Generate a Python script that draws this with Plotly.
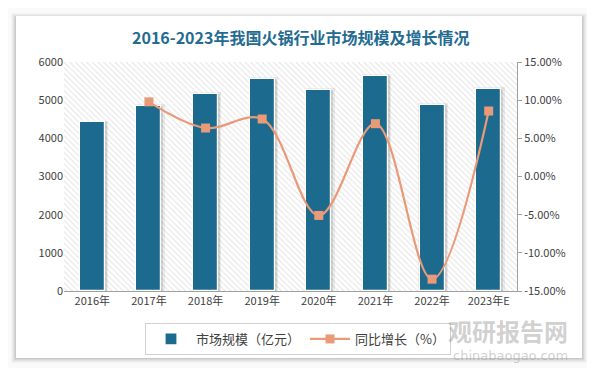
import plotly.graph_objects as go

categories = ["2016年", "2017年", "2018年", "2019年", "2020年", "2021年", "2022年", "2023年E"]
market_size = [4420, 4855, 5170, 5555, 5275, 5640, 4882, 5300]
growth_x = ["2017年", "2018年", "2019年", "2020年", "2021年", "2022年", "2023年E"]
growth_pct = [9.78, 6.35, 7.53, -5.10, 6.92, -13.45, 8.58]
left_ticks = [0, 1000, 2000, 3000, 4000, 5000, 6000]
right_ticks = [-15, -10, -5, 0, 5, 10, 15]
right_tick_text = ["-15.00%", "-10.00%", "-5.00%", "0.00%", "5.00%", "10.00%", "15.00%"]

BAR = "#1d6a8f"
LINE = "#e99a78"
FONT = "Noto Sans CJK SC"

# page body has an 8px margin; work in window pixels and compensate
OFF = 8
L, R, T, B = 64, 517, 62, 291
W, H = 595 - OFF, 368 - OFF
def px(x):
    return (x - L) / (R - L)
def py(y):
    return (B - y) / (B - T)

fig = go.Figure()

# hatched plot background
fig.add_trace(go.Bar(
    x=categories, y=[6000] * len(categories), width=1.0,
    marker=dict(color="white", line=dict(width=0),
                pattern=dict(shape="\\", fgcolor="#c8c8c8", bgcolor="white", size=4, solidity=0.25)),
    hoverinfo="skip", showlegend=False,
))
# soft bar shadows
fig.add_trace(go.Bar(
    x=categories, y=[v + 40 for v in market_size], width=0.52, offset=-0.24,
    marker=dict(color="rgba(0,0,0,0.07)", line=dict(width=0)),
    hoverinfo="skip", showlegend=False,
))
fig.add_trace(go.Bar(
    x=categories, y=market_size, width=0.47, offset=-0.215,
    marker=dict(color="rgba(0,0,0,0.10)", line=dict(width=0)),
    hoverinfo="skip", showlegend=False,
))
fig.add_trace(go.Bar(
    x=categories, y=market_size, width=0.44, name="市场规模（亿元）",
    marker=dict(color=BAR, line=dict(color="white", width=1.2)),
))
fig.add_trace(go.Scatter(
    x=growth_x, y=growth_pct, yaxis="y2", name="同比增长（%）",
    mode="lines+markers", line=dict(color=LINE, width=2.2, shape="spline", smoothing=1.0),
    marker=dict(symbol="square", size=9, color=LINE),
))

shapes = []
# card shadow
for i, a in enumerate([0.025, 0.03, 0.04, 0.05, 0.06]):
    d = 5 - i
    shapes.append(dict(type="rect", xref="paper", yref="paper", layer="below",
                       x0=px(16 - d), x1=px(582 + d), y0=py(358 + d), y1=py(16 - d + 2),
                       line=dict(width=0), fillcolor=f"rgba(0,0,0,{a})"))
shapes.append(dict(type="rect", xref="paper", yref="paper", layer="below",
                   x0=px(16), x1=px(582), y0=py(358), y1=py(16),
                   line=dict(width=0), fillcolor="white"))

annotations = [
    dict(text="2016-2023年我国火锅行业市场规模及增长情况", xref="paper", yref="paper",
         x=px(300), y=py(37), xanchor="center", yanchor="middle", showarrow=False,
         font=dict(family=FONT, size=16, color="#236b91", weight="bold")),
    dict(text="观研报告网", xref="paper", yref="paper", x=px(570), y=py(330),
         xanchor="right", yanchor="middle", showarrow=False,
         font=dict(family=FONT, size=24, color="rgba(150,150,150,0.45)", weight="bold")),
    dict(text="chinabaogao.com", xref="paper", yref="paper", x=px(570), y=py(355),
         xanchor="right", yanchor="middle", showarrow=False,
         font=dict(family="DejaVu Sans", size=13, color="rgba(150,150,150,0.45)")),
]

fig.update_layout(
    width=W, height=H,
    margin=dict(l=L - OFF, r=595 - R, t=T - OFF, b=368 - B, autoexpand=False),
    paper_bgcolor="#fafafa", plot_bgcolor="rgba(0,0,0,0)",
    barmode="overlay", bargap=0,
    font=dict(family=FONT, size=11, color="#404040"),
    xaxis=dict(type="category", showgrid=False, showline=True, linecolor="#a0a0a0",
               linewidth=1, ticks="", tickfont=dict(size=11, color="#404040"),
               range=[-0.5, 7.5], fixedrange=True, automargin=False),
    yaxis=dict(range=[0, 6000], tickvals=left_ticks, showgrid=False, zeroline=False,
               showline=False, ticks="", tickfont=dict(size=11, color="#404040"),
               automargin=False),
    yaxis2=dict(overlaying="y", side="right", range=[-15, 15], tickvals=right_ticks,
                ticktext=right_tick_text, showgrid=False, zeroline=False,
                showline=True, linecolor="#a0a0a0", ticks="outside", ticklen=4,
                tickcolor="#a0a0a0", tickfont=dict(size=11, color="#404040"),
                automargin=False),
    legend=dict(orientation="h", x=px(298), y=py(323), xanchor="center", yanchor="top",
                bordercolor="#d0d0d0", borderwidth=1, bgcolor="white",
                font=dict(size=13, color="#404040"), itemwidth=40,
                traceorder="normal"),
    shapes=shapes, annotations=annotations,
)

fig.write_html("out.html")
